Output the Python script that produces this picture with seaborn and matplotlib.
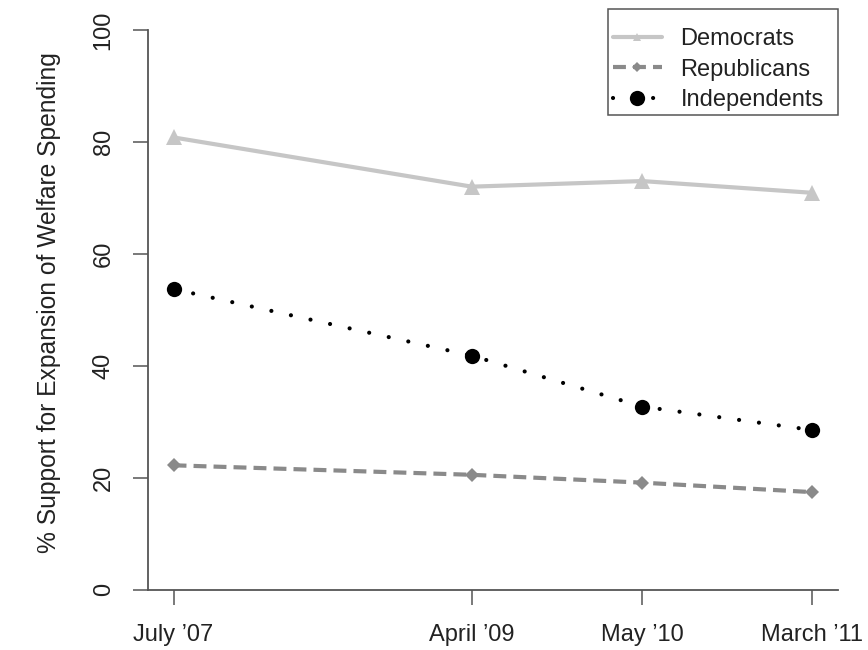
import matplotlib
matplotlib.use("Agg")
import matplotlib.pyplot as plt
from matplotlib.lines import Line2D
from matplotlib.patches import Rectangle
import seaborn as sns
import pandas as pd

# ---- data ----
time_labels = ["July \u201907", "April \u201909", "May \u201910", "March \u201911"]
time_pos = [1.0, 2.4, 3.2, 4.0]
democrats = [80.8, 72.0, 73.0, 70.9]
republicans = [22.2, 20.5, 19.1, 17.4]
independents = [53.7, 41.8, 32.7, 28.5]
y_ticks = [0, 20, 40, 60, 80, 100]
series_names = ["Democrats", "Republicans", "Independents"]

sns.set_style("white")
plt.rcParams["font.family"] = ["Liberation Sans", "DejaVu Sans"]

W, H = 868, 650
fig = plt.figure(figsize=(W / 100, H / 100), dpi=100)
ax = fig.add_axes([148 / W, 1 - 589.5 / H, 690 / W, 559.5 / H])

df = pd.DataFrame({"x": time_pos, "dem": democrats, "rep": republicans, "ind": independents})

fs = 17.0
dem_c, rep_c, ind_c = "#c6c6c6", "#8a8a8a", "black"
dash_rep = (0, (3.1, 1.7))
dot_ind = (0, (0.01, 4.8))

sns.lineplot(data=df, x="x", y="dem", ax=ax, color=dem_c, linewidth=3.0,
             marker="^", markersize=12, markeredgewidth=0, solid_capstyle="butt")
sns.lineplot(data=df, x="x", y="rep", ax=ax, color=rep_c, linewidth=3.0,
             linestyle=dash_rep, marker="D", markersize=7.5, markeredgewidth=0,
             dash_capstyle="butt")
sns.lineplot(data=df, x="x", y="ind", ax=ax, color=ind_c, linewidth=3.0,
             linestyle=dot_ind, dash_capstyle="round", marker="o",
             markersize=11, markeredgewidth=0)

span = time_pos[-1] - time_pos[0]
ax.set_xlim(time_pos[0] - 0.04 * span, time_pos[-1] + 0.04 * span)
ax.set_ylim(0, 100)

ax.set_xticks(time_pos)
ax.set_xticklabels(time_labels, fontsize=fs, color="#222222")
ax.set_yticks(y_ticks)
ax.set_yticklabels([str(v) for v in y_ticks], fontsize=fs, color="#222222",
                   rotation=90, va="center")
ax.tick_params(axis="both", direction="out", length=11, width=1.1,
               color="#555555", left=True, bottom=True)
ax.tick_params(axis="x", pad=14)
ax.tick_params(axis="y", pad=13)

ax.set_xlabel("")
ax.set_ylabel("% Support for Expansion of Welfare Spending", fontsize=17.7, color="#222222")
ax.yaxis.set_label_coords(-0.126, 0.512)

for s in ["top", "right"]:
    ax.spines[s].set_visible(False)
for s in ["left", "bottom"]:
    ax.spines[s].set_color("#555555")
    ax.spines[s].set_linewidth(1.3)

handles = [
    Line2D([], [], color=dem_c, linewidth=3.0, marker="^", markersize=6, markeredgewidth=0),
    Line2D([], [], color=rep_c, linewidth=3.0, linestyle=dash_rep, marker="D",
           markersize=5, markeredgewidth=0),
    Line2D([], [], color=ind_c, linewidth=3.0, linestyle=dot_ind, dash_capstyle="round",
           marker="o", markersize=11, markeredgewidth=0),
]
leg = ax.legend(handles, series_names, loc="upper right",
                bbox_to_anchor=(835.5 / W, 1 - 16.5 / H), bbox_transform=fig.transFigure,
                borderaxespad=0, fontsize=fs, frameon=False,
                handlelength=2.05, handletextpad=0.8, labelspacing=0.35,
                borderpad=0.5, numpoints=1)
for t in leg.get_texts():
    t.set_color("#222222")

# legend frame (R-style box)
fig.patches.append(Rectangle((608 / W, 1 - 115 / H), 230 / W, 106 / H,
                             transform=fig.transFigure, fill=False,
                             edgecolor="#555555", linewidth=1.1, zorder=5))

fig.savefig("out.png", dpi=100)
